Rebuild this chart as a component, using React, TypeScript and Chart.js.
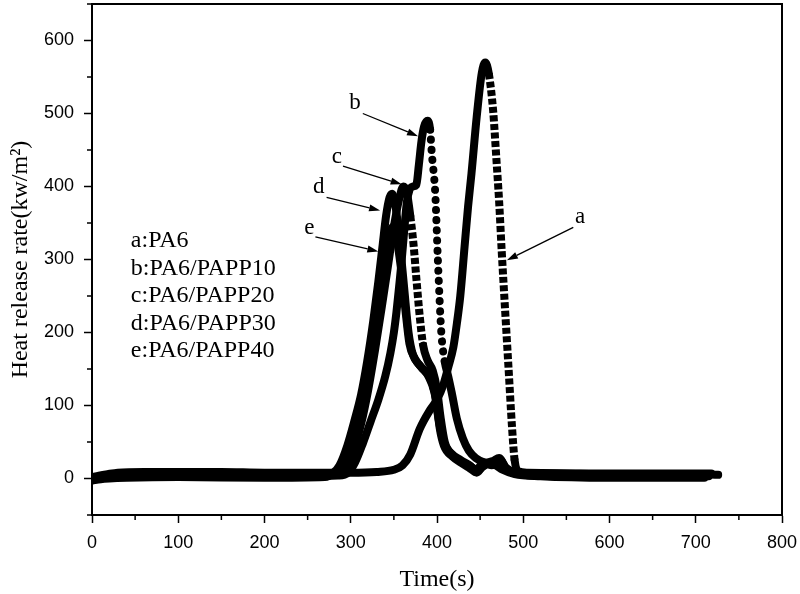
import React, { useEffect, useRef } from "react";
import { Chart, registerables } from "chart.js";

Chart.register(...registerables);

// [time (s), heat release rate (kW/m2)]
const seriesA: [number, number][] = [
  [0, 2], [8, 4], [18, 6], [30, 8], [60, 9], [100, 9], [150, 9], [200, 8], [250, 8], [300, 8],
  [330, 9], [350, 12], [360, 18], [369, 33], [380, 68], [392, 94], [400, 108], [407, 127],
  [413, 152], [419, 180], [423, 212], [427, 250], [432, 318], [436, 372], [440, 418], [446, 495],
  [452, 556], [456, 570], [460, 555], [465, 505], [469, 435], [472, 380], [475, 312], [479, 230],
  [483, 150], [487, 70], [490, 25], [494, 10], [505, 8], [550, 7], [600, 6], [650, 6], [700, 6], [726, 5],
];
const seriesB: [number, number][] = [
  [0, -1], [10, 0], [20, 2], [35, 3], [60, 4], [100, 4], [150, 3], [200, 3], [250, 3], [285, 4],
  [297, 8], [305, 22], [314, 48], [323, 78], [332, 108], [340, 140], [346, 172], [350, 200],
  [353, 228], [356, 262], [359, 298], [362, 340], [365, 378], [368, 395], [372, 400], [376, 402],
  [379, 430], [382, 462], [385, 482], [389, 490], [392, 478], [394, 445], [398, 390], [401, 300],
  [405, 200], [409, 160], [413, 140], [417, 118], [423, 82], [430, 55], [437, 38], [445, 28],
  [455, 22], [465, 20], [473, 26], [480, 15], [490, 8], [500, 5], [550, 3], [600, 3], [650, 3], [715, 3],
];
const seriesC: [number, number][] = [
  [0, 0], [10, 2], [20, 4], [40, 5], [100, 6], [200, 5], [280, 6], [292, 12], [302, 35], [312, 75],
  [320, 120], [328, 175], [336, 235], [343, 290], [350, 345], [356, 382], [361, 400], [365, 392],
  [369, 360], [373, 318], [376, 275], [380, 222], [384, 182], [389, 162], [395, 148], [400, 122],
  [404, 85], [409, 50], [418, 32], [430, 22], [440, 16], [447, 10], [455, 20], [465, 24], [472, 28],
  [480, 14], [490, 8], [500, 6], [550, 5], [600, 5], [650, 5], [712, 5],
];
const seriesD: [number, number][] = [
  [0, -3], [10, -1], [20, 0], [40, 1], [100, 2], [200, 1], [270, 2], [280, 8], [287, 18], [296, 45],
  [304, 78], [312, 115], [319, 160], [326, 215], [332, 270], [337, 320], [341, 360], [345, 385],
  [348, 390], [352, 372], [357, 322], [362, 260], [367, 200], [372, 170], [380, 155], [388, 145],
  [394, 132], [399, 108], [403, 70], [408, 45], [418, 30], [430, 20], [438, 14], [446, 8], [452, 15],
  [460, 20], [468, 18], [476, 12], [490, 6], [520, 3], [600, 1], [650, 1], [710, 1],
];
const seriesE: [number, number][] = [
  [0, 1], [10, 3], [20, 5], [40, 7], [100, 8], [200, 7], [275, 7], [285, 10], [292, 22], [300, 50],
  [309, 90], [317, 135], [325, 185], [333, 245], [339, 295], [344, 330], [349, 345], [353, 330],
  [358, 290], [363, 235], [368, 185], [374, 165], [382, 152], [390, 140], [397, 118], [402, 80],
  [407, 52], [416, 35], [428, 25], [438, 18], [445, 12], [455, 22], [463, 18], [472, 22], [480, 12],
  [492, 8], [520, 7], [600, 7], [650, 7], [718, 7],
];

const curveTags = ["a", "b", "c", "d", "e"];
const sampleNames = ["a:PA6", "b:PA6/PAPP10", "c:PA6/PAPP20", "d:PA6/PAPP30", "e:PA6/PAPP40"];

// callouts: tag text centre, arrow start, arrow tip (data units)
const callouts = [
  { tag: 0, text: [566, 358], from: [558, 344], to: [481, 299] },
  { tag: 1, text: [305, 514], from: [314, 500], to: [378, 469] },
  { tag: 2, text: [284, 441], from: [291, 428], to: [359, 403] },
  { tag: 3, text: [263, 399], from: [272, 385], to: [334, 367] },
  { tag: 4, text: [252, 343], from: [259, 331], to: [332, 311] },
];

const inRange = (ctx: any, lo: number, hi: number) =>
  ctx.p0.parsed.x >= lo && ctx.p1.parsed.x <= hi;

const decorPlugin = {
  id: "decor",
  afterDraw(chart: any) {
    const { ctx, chartArea } = chart;
    const xs = chart.scales.x;
    const ys = chart.scales.y;
    ctx.save();
    ctx.strokeStyle = "#000";
    ctx.fillStyle = "#000";

    // top and right frame
    ctx.lineWidth = 2;
    ctx.beginPath();
    ctx.moveTo(chartArea.left, chartArea.top);
    ctx.lineTo(chartArea.right, chartArea.top);
    ctx.lineTo(chartArea.right, chartArea.bottom);
    ctx.stroke();

    // minor ticks
    ctx.lineWidth = 1.5;
    ctx.beginPath();
    xs.ticks.forEach((t: any) => {
      if (t.value % 100 !== 0) {
        const px = xs.getPixelForValue(t.value);
        ctx.moveTo(px, chartArea.bottom);
        ctx.lineTo(px, chartArea.bottom + 5);
      }
    });
    ys.ticks.forEach((t: any) => {
      if (t.value % 100 !== 0) {
        const py = ys.getPixelForValue(t.value);
        ctx.moveTo(chartArea.left, py);
        ctx.lineTo(chartArea.left - 5, py);
      }
    });
    ctx.stroke();

    // callouts
    ctx.font = '23px "Liberation Serif"';
    ctx.textAlign = "center";
    ctx.textBaseline = "middle";
    callouts.forEach((c) => {
      ctx.fillText(curveTags[c.tag], xs.getPixelForValue(c.text[0]), ys.getPixelForValue(c.text[1]));
      const x0 = xs.getPixelForValue(c.from[0]);
      const y0 = ys.getPixelForValue(c.from[1]);
      const x1 = xs.getPixelForValue(c.to[0]);
      const y1 = ys.getPixelForValue(c.to[1]);
      const ang = Math.atan2(y1 - y0, x1 - x0);
      const len = 11;
      const hw = 3.5;
      const bx = x1 - len * Math.cos(ang);
      const by = y1 - len * Math.sin(ang);
      ctx.lineWidth = 1.3;
      ctx.beginPath();
      ctx.moveTo(x0, y0);
      ctx.lineTo(bx, by);
      ctx.stroke();
      ctx.beginPath();
      ctx.moveTo(x1, y1);
      ctx.lineTo(bx + hw * Math.sin(ang), by - hw * Math.cos(ang));
      ctx.lineTo(bx - hw * Math.sin(ang), by + hw * Math.cos(ang));
      ctx.closePath();
      ctx.fill();
    });

    // sample key
    ctx.font = '24px "Liberation Serif"';
    ctx.textAlign = "left";
    ctx.textBaseline = "alphabetic";
    const kx = xs.getPixelForValue(45);
    const ky = ys.getPixelForValue(317);
    sampleNames.forEach((name, i) => {
      ctx.fillText(name, kx, ky + i * 27.5);
    });
    ctx.restore();
  },
};

const makeSet = (pts: [number, number][], segment?: any) => ({
  data: pts.map(([x, y]) => ({ x, y })),
  borderColor: "#000",
  borderWidth: 8,
  pointRadius: 0,
  borderCapStyle: "round",
  borderJoinStyle: "round",
  cubicInterpolationMode: "monotone",
  segment,
});

const majorTick = (ctx: any) =>
  ctx.tick && ctx.tick.value % 100 === 0 ? "#000" : "rgba(0,0,0,0)";

const App = () => {
  const canvasRef = useRef<HTMLCanvasElement | null>(null);

  useEffect(() => {
    if (!canvasRef.current) return;
    const chart = new Chart(canvasRef.current, {
      type: "line",
      data: {
        datasets: [
          makeSet(seriesE),
          makeSet(seriesD),
          makeSet(seriesC, {
            borderDash: (ctx: any) => (inRange(ctx, 366, 384) ? [6, 2.5] : undefined),
            borderCapStyle: (ctx: any) => (inRange(ctx, 366, 384) ? "butt" : undefined),
          }),
          makeSet(seriesB, {
            borderDash: (ctx: any) => (inRange(ctx, 392, 410) ? [0.1, 10] : undefined),
          }),
          makeSet(seriesA, {
            borderDash: (ctx: any) => (inRange(ctx, 460, 492) ? [6, 2.5] : undefined),
            borderCapStyle: (ctx: any) => (inRange(ctx, 460, 492) ? "butt" : undefined),
          }),
        ] as any,
      },
      plugins: [decorPlugin],
      options: {
        animation: false,
        responsive: true,
        maintainAspectRatio: false,
        layout: { padding: { top: 4, right: 18, left: 0, bottom: 0 } },
        plugins: { legend: { display: false }, tooltip: { enabled: false } },
        scales: {
          x: {
            type: "linear",
            min: 0,
            max: 800,
            afterFit: (scale: any) => {
              scale.height = 79;
              scale.paddingLeft = 0;
              scale.paddingRight = 0;
            },
            border: { display: true, color: "#000", width: 2 },
            grid: {
              drawOnChartArea: false,
              drawTicks: true,
              tickLength: 8,
              tickWidth: 1.5,
              tickColor: majorTick,
            },
            ticks: {
              stepSize: 50,
              autoSkip: false,
              maxRotation: 0,
              padding: 9,
              color: "#000",
              font: { family: "Liberation Sans", size: 18 },
              callback: (v: any) => (Number(v) % 100 === 0 ? String(v) : ""),
            },
            title: {
              display: true,
              text: "Time(s)",
              color: "#000",
              font: { family: "Liberation Serif", size: 24 },
              padding: { top: 0, bottom: 0 },
            },
          },
          y: {
            min: -50,
            max: 650,
            afterFit: (scale: any) => {
              scale.width = 92;
              scale.paddingTop = 0;
              scale.paddingBottom = 0;
            },
            border: { display: true, color: "#000", width: 2 },
            grid: {
              drawOnChartArea: false,
              drawTicks: true,
              tickLength: 8,
              tickWidth: 1.5,
              tickColor: majorTick,
            },
            ticks: {
              stepSize: 50,
              autoSkip: false,
              padding: 10,
              color: "#000",
              font: { family: "Liberation Sans", size: 18 },
              callback: (v: any) => (Number(v) % 100 === 0 ? String(v) : ""),
            },
            title: {
              display: true,
              text: "Heat release rate(kw/m²)",
              color: "#000",
              font: { family: "Liberation Serif", size: 24 },
              padding: { top: 6, bottom: 0 },
            },
          },
        },
      },
    });
    return () => {
      chart.destroy();
    };
  }, []);

  return (
    <div style={{ position: "absolute", left: 0, top: 0, width: 800, height: 594, background: "#fff" }}>
      <canvas ref={canvasRef} />
    </div>
  );
};

export default App;
